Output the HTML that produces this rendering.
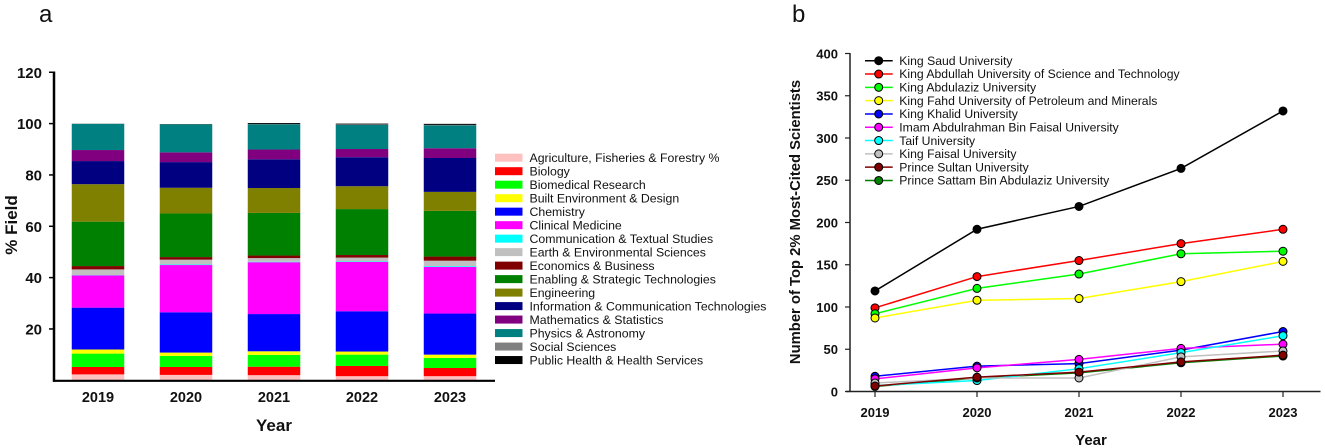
<!DOCTYPE html>
<html>
<head>
<meta charset="utf-8">
<style>
html,body{margin:0;padding:0;background:#fff;width:1325px;height:448px;overflow:hidden}
svg{display:block;font-family:"Liberation Sans",Arial,sans-serif}
</style>
</head>
<body>
<svg id="fig" width="1325" height="448" viewBox="0 0 1325 448" xmlns="http://www.w3.org/2000/svg">
<text x="39" y="22" font-size="24" fill="#111">a</text>
<text x="792" y="22" font-size="24" fill="#111">b</text>
<text transform="translate(17,225) rotate(-90)" text-anchor="middle" font-size="17" font-weight="bold" fill="#111">% Field</text>
<text x="274" y="431" text-anchor="middle" font-size="17" font-weight="bold" fill="#111">Year</text>
<text transform="translate(800,222) rotate(-90)" text-anchor="middle" font-size="14.8" font-weight="bold" fill="#111">Number of Top 2% Most-Cited Scientists</text>
<text x="1091" y="445" text-anchor="middle" font-size="15" font-weight="bold" fill="#111">Year</text>
<g id="panelA"></g>
<g id="panelB"></g>
</svg>
<script>
var years = ["2019","2020","2021","2022","2023"];

var fieldNames = ["Agriculture, Fisheries & Forestry %","Biology","Biomedical Research","Built Environment & Design","Chemistry","Clinical Medicine","Communication & Textual Studies","Earth & Environmental Sciences","Economics & Business","Enabling & Strategic Technologies","Engineering","Information & Communication Technologies","Mathematics & Statistics","Physics & Astronomy","Social Sciences","Public Health & Health Services"];
var fieldColors = ["#ffc0c0","#ff0000","#00ff00","#ffff00","#0000ff","#ff00ff","#00ffff","#c0c0c0","#800000","#008000","#808000","#000080","#800080","#008080","#808080","#000000"];
var agriculture = [2.3,2.1,2.0,1.6,1.6];
var biology = [2.9,3.1,3.3,4.0,3.2];
var biomedical = [5.2,4.3,4.6,4.4,3.9];
var builtEnvironment = [1.6,1.3,1.4,1.2,1.3];
var chemistry = [16.3,15.7,14.5,15.7,16.0];
var clinicalMedicine = [12.6,18.4,20.2,19.2,18.2];
var communication = [0.1,0.2,0.2,0.2,0.3];
var earthSciences = [2.2,1.9,1.4,1.5,2.1];
var economics = [1.3,1.0,1.0,1.0,1.6];
var enabling = [17.3,17.0,16.6,17.9,17.8];
var engineering = [14.6,10.0,9.7,8.9,7.4];
var ict = [9.0,10.0,11.2,11.3,13.2];
var mathematics = [4.3,3.8,3.8,3.2,3.8];
var physics = [10.2,10.9,9.8,9.4,8.9];
var socialSciences = [0,0,0.1,0.2,0.2];
var publicHealth = [0.05,0.1,0.4,0.3,0.4];
var fieldSeries = [agriculture,biology,biomedical,builtEnvironment,chemistry,clinicalMedicine,communication,earthSciences,economics,enabling,engineering,ict,mathematics,physics,socialSciences,publicHealth];
var percentTicks = [20,40,60,80,100,120];

var uniNames = ["King Saud University","King Abdullah University of Science and Technology","King Abdulaziz University","King Fahd University of Petroleum and Minerals","King Khalid University","Imam Abdulrahman Bin Faisal University","Taif University","King Faisal University","Prince Sultan University","Prince Sattam Bin Abdulaziz University"];
var uniColors = ["#000000","#ff0000","#00ff00","#ffff00","#0000ff","#ff00ff","#00ffff","#c0c0c0","#800000","#008000"];
var kingSaud = [119,192,219,264,332];
var kaust = [99,136,155,175,192];
var kingAbdulaziz = [92,122,139,163,166];
var kingFahd = [87,108,110,130,154];
var kingKhalid = [18,30,33,49,71];
var imamAbdulrahman = [15,28,38,51,56];
var taif = [7,13,27,46,66];
var kingFaisal = [10,16,16,41,48];
var princeSultan = [6.5,17,23,35,43];
var princeSattam = [6,16,22,34,42];
var uniSeries = [kingSaud,kaust,kingAbdulaziz,kingFahd,kingKhalid,imamAbdulrahman,taif,kingFaisal,princeSultan,princeSattam];
var countTicks = [0,50,100,150,200,250,300,350,400];

var NS = "http://www.w3.org/2000/svg";
function mk(parent, tag, attrs, txt) {
  var el = document.createElementNS(NS, tag);
  for (var k in attrs) el.setAttribute(k, attrs[k]);
  if (txt !== undefined) el.textContent = txt;
  parent.appendChild(el);
  return el;
}
function slug(s) {
  return s.toLowerCase().replace(/[^a-z0-9]+/g, "-").replace(/^-|-$/g, "");
}

/* Panel A */
var A = document.getElementById("panelA");
function ax(i) { return 98 + i * 88; }
function ay(v) { return 380.3 - v * 2.567; }
var barW = 52.5;

years.forEach(function (yr, i) {
  var cum = 0;
  fieldSeries.forEach(function (vals, s) {
    var top = ay(cum + vals[i]);
    var rect = mk(A, "rect", {x: ax(i) - barW / 2, y: top, width: barW, height: ay(cum) - top, fill: fieldColors[s]});
    
    
    cum += vals[i];
  });
  var lab = mk(A, "text", {x: ax(i), y: 402, "text-anchor": "middle", "font-size": 14.5, "font-weight": "bold", fill: "#111"}, yr);
  
  
});

var aAxisY = mk(A, "line", {x1: 54, x2: 54, y1: 71.5, y2: 381.8, stroke: "#000", "stroke-width": 2.5});


var aAxisX = mk(A, "line", {x1: 53, x2: 495, y1: 380.8, y2: 380.8, stroke: "#000", "stroke-width": 2.2});



percentTicks.forEach(function (t) {
  var tick = mk(A, "line", {x1: 49, x2: 54, y1: ay(t), y2: ay(t), stroke: "#000", "stroke-width": 1.5});
  
  
  var lab = mk(A, "text", {x: 42, y: ay(t) + 5.5, "text-anchor": "end", "font-size": 15, "font-weight": "bold", fill: "#111"}, t);
  
  
});

fieldNames.forEach(function (name, s) {
  var cy = 157.7 + s * 13.49;
  var sw = mk(A, "rect", {x: 495, y: cy - 4, width: 27.5, height: 8, fill: fieldColors[s]});
  
  
  var tx = mk(A, "text", {x: 529.5, y: cy + 4.2, "font-size": 12.3, fill: "#111"}, name);
  
  
});

/* Panel B */
var B = document.getElementById("panelB");
function bx(i) { return 875 + i * 102; }
function by(v) { return 391.5 - v * 0.845; }

var bAxisY = mk(B, "line", {x1: 850, x2: 850, y1: 53, y2: 392, stroke: "#222", "stroke-width": 1.5});


var bAxisX = mk(B, "line", {x1: 846, x2: 1320.5, y1: 391.5, y2: 391.5, stroke: "#222", "stroke-width": 1.5});



countTicks.forEach(function (t) {
  var tick = mk(B, "line", {x1: 845, x2: 850, y1: by(t), y2: by(t), stroke: "#222", "stroke-width": 1.2});
  
  
  var lab = mk(B, "text", {x: 838, y: by(t) + 4.8, "text-anchor": "end", "font-size": 13, "font-weight": "bold", fill: "#111"}, t);
  
  
});

years.forEach(function (yr, i) {
  var tick = mk(B, "line", {x1: bx(i), x2: bx(i), y1: 391.5, y2: 397, stroke: "#222", "stroke-width": 1.2});
  
  
  var lab = mk(B, "text", {x: bx(i), y: 417, "text-anchor": "middle", "font-size": 13, "font-weight": "bold", fill: "#111"}, yr);
  
  
});

/* Prince Sattam is hidden behind the others in the reference, so it is drawn first */
var drawOrder = [9,0,1,2,3,4,5,6,7,8];
drawOrder.forEach(function (s) {
  var pts = uniSeries[s].map(function (v, i) { return bx(i) + "," + by(v); }).join(" ");
  var line = mk(B, "polyline", {points: pts, fill: "none", stroke: uniColors[s], "stroke-width": 1.5});
  
  
});
drawOrder.forEach(function (s) {
  uniSeries[s].forEach(function (v, i) {
    var dot = mk(B, "circle", {cx: bx(i), cy: by(v), r: 4, fill: uniColors[s], stroke: "#000", "stroke-width": 1});
    
    
  });
});

uniNames.forEach(function (name, s) {
  var cy = 60.7 + s * 13.31;
  var ln = mk(B, "line", {x1: 865, x2: 892.7, y1: cy, y2: cy, stroke: uniColors[s], "stroke-width": 1.5});
  
  
  var mkr = mk(B, "circle", {cx: 878.7, cy: cy, r: 4, fill: uniColors[s], stroke: "#000", "stroke-width": 1});
  
  
  var tx = mk(B, "text", {x: 899.3, y: cy + 4.2, "font-size": 12.2, fill: "#111"}, name);
  
  
});
</script>
</body>
</html>
